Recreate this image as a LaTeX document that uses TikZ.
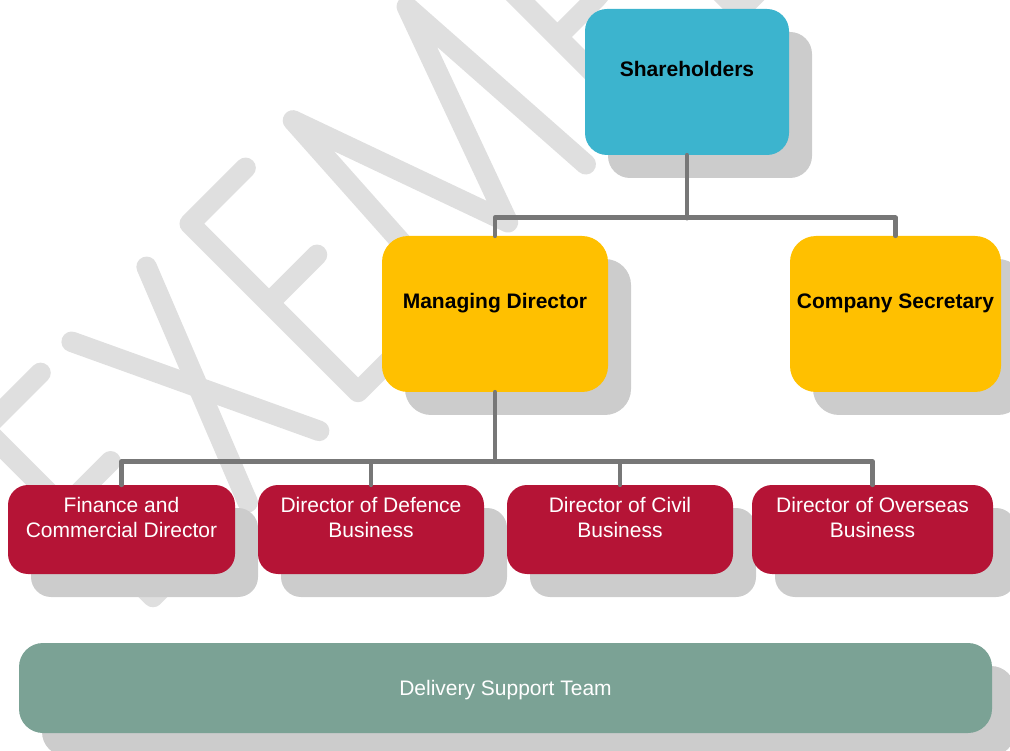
\documentclass[tikz,border=0pt]{standalone}
\usepackage{fontspec}
\setmainfont{Liberation Sans}
\usetikzlibrary{shadows}

\definecolor{shblue}{HTML}{3CB4CE}
\definecolor{mgold}{HTML}{FFC000}
\definecolor{dirred}{HTML}{B51436}
\definecolor{teamgreen}{HTML}{7BA295}
\definecolor{shadowgray}{HTML}{CCCCCC}
\definecolor{linegray}{HTML}{777777}
\definecolor{markgray}{HTML}{DFDFDF}

\begin{document}
\begin{tikzpicture}[x=1pt,y=-1pt,
  card/.style={rectangle, draw=none, inner sep=0pt,
    drop shadow={shadow xshift=23pt, shadow yshift=-23pt, fill=shadowgray, opacity=1}},
  topcard/.style={card, fill=shblue, rounded corners=22pt},
  goldcard/.style={card, fill=mgold, rounded corners=26pt,
    minimum height=156pt},
  redcard/.style={card, fill=dirred, rounded corners=20pt,
    minimum height=89pt},
  teamcard/.style={card, fill=teamgreen, rounded corners=24pt,
    minimum width=973pt, minimum height=90pt},
  boldtxt/.style={inner sep=0pt, anchor=base, text=black,
    font=\fontsize{21}{25}\selectfont\bfseries},
  redtxt/.style={inner sep=0pt, align=center, text=white,
    font=\fontsize{21}{25}\selectfont},
  teamtxt/.style={inner sep=0pt, anchor=base, text=white,
    font=\fontsize{21}{25}\selectfont},
  conn/.style={draw=linegray, line width=4.6pt, line cap=round, line join=round},
  wmstroke/.style={draw=markgray, line width=20.5pt, line cap=round, line join=round}
]
\useasboundingbox (0,0) rectangle (1010,751);
\clip (0,0) rectangle (1010,751);

% background watermark lettering, set along a 45 degree baseline
\begin{scope}[shift={(375,375)}]
\begin{scope}[x={(0.7071pt,0.7071pt)}, y={(-0.7071pt,0.7071pt)}]
  % E
  \draw[wmstroke] (-235,238) -- (-314,238) -- (-314,0) -- (-235,0);
  \draw[wmstroke] (-314,126) -- (-248,126);
  % X
  \draw[wmstroke] (-85,238) -- (-180,0);
  \draw[wmstroke] (-191,238) -- (-79,0);
  % E
  \draw[wmstroke] (55,238) -- (-24,238) -- (-24,0) -- (55,0);
  \draw[wmstroke] (-24,126) -- (44,126);
  % M
  \draw[wmstroke] (108,0) -- (122,238) -- (202,14) -- (283,238) -- (298,0);
  % P
  \draw[wmstroke] (368,0) -- (368,238) -- (420,238) arc (90:-90:64) -- (368,110);
  % L
  \draw[wmstroke] (515,238) -- (515,0) -- (594,0);
\end{scope}
\end{scope}

% boxes
\node[topcard, minimum width=204pt, minimum height=146pt] (sh) at (687,82) {};
\node[goldcard, minimum width=226pt] (md) at (495,314) {};
\node[goldcard, minimum width=211pt] (cs) at (895.5,314) {};
\node[redcard, minimum width=227pt] (fin) at (121.5,529.5) {};
\node[redcard, minimum width=226pt] (def) at (371,529.5) {};
\node[redcard, minimum width=226pt] (civ) at (620,529.5) {};
\node[redcard, minimum width=241pt] (ovs) at (872.5,529.5) {};
\node[teamcard] (team) at (505.5,688) {};

% box texts
\node[boldtxt] (shT) at ([yshift=5pt]sh.center) {Shareholders};
\node[boldtxt] (mdT) at ([yshift=5pt]md.center) {Managing Director};
\node[boldtxt] (csT) at ([yshift=5pt]cs.center) {Company Secretary};
\node[redtxt] (finT) at ([yshift=12pt]fin.center) {Finance and\\Commercial Director};
\node[redtxt] (defT) at ([yshift=12pt]def.center) {Director of Defence\\Business};
\node[redtxt] (civT) at ([yshift=12pt]civ.center) {Director of Civil\\Business};
\node[redtxt] (ovsT) at ([yshift=12pt]ovs.center) {Director of Overseas\\Business};
\node[teamtxt] (teamT) at ([yshift=-7.5pt]team.center) {Delivery Support Team};

% connectors
\draw[conn] (sh.south) -- ++(0,63);
\draw[conn] (md.north) -- ++(0,-18) -| (cs.north);
\draw[conn] (md.south) -- ++(0,69.5);
\draw[conn] (fin.north) -- ++(0,-23.5) -| (ovs.north);
\draw[conn] (def.north) -- ++(0,-23.5);
\draw[conn] (civ.north) -- ++(0,-23.5);
\end{tikzpicture}
\end{document}
